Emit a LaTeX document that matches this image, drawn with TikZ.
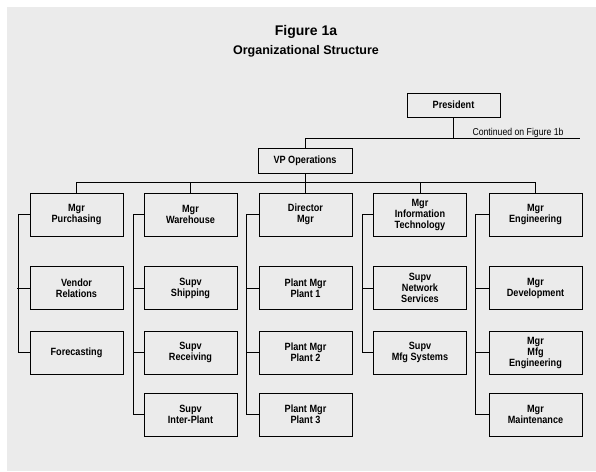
\documentclass[tikz,border=0pt]{standalone}
\usepackage{fontspec}
\setmainfont{Liberation Sans}
\newfontfamily\narrowfont{Liberation Sans}[FakeStretch=0.87]
\usetikzlibrary{calc}
\definecolor{bggray}{HTML}{EBEBEB}

\begin{document}
\begin{tikzpicture}[x=1pt,y=-1pt,
        box/.style={rectangle,draw,line width=1pt,minimum width=93pt,minimum height=43pt,inner sep=1pt,align=center,font=\narrowfont\fontsize{10.5}{11}\selectfont\bfseries},
        link/.style={line width=0.9pt}]
                \fill[white] (0,0) rectangle (596,471);
                \fill[bggray] (7,7) rectangle (596,471);
                \useasboundingbox (0,0) rectangle (596,471);

                \node (title) at (306,32) {\fontsize{14}{16}\selectfont\bfseries Figure 1a};
                \node (subtitle) at (306,51) {\fontsize{12.5}{14}\selectfont\bfseries Organizational Structure};

                \node[box,minimum height=24pt] (pres) at (453.5,105) {President};
                \node[box,minimum width=94pt,minimum height=25pt] (vpops) at (305,160.5) {VP Operations};
                \node[anchor=base west,font=\narrowfont\fontsize{10}{11}\selectfont] (cont) at (469,135.5) {Continued on Figure 1b};

                \node[box] (pur) at (76.5,214.5) {Mgr\\Purchasing};
                \node[box] (vend) at (76.5,288) {Vendor\\Relations};
                \node[box] (fore) at (76.5,352.5) {Forecasting};

                \node[box] (ware) at (190.5,214.5) {Mgr\\Warehouse};
                \node[box] (ship) at (190.5,288) {Supv\\Shipping};
                \node[box] (recv) at (190.5,352.5) {Supv\\Receiving};
                \node[box] (inter) at (190.5,414.5) {Supv\\Inter-Plant};

                \node[box] (dir) at (305.5,214.5) {Director\\Mgr};
                \node[box] (plantA) at (305.5,288) {Plant Mgr\\Plant 1};
                \node[box] (plantB) at (305.5,352.5) {Plant Mgr\\Plant 2};
                \node[box] (plantC) at (305.5,414.5) {Plant Mgr\\Plant 3};

                \node[box] (itmgr) at (420,214.5) {Mgr\\Information\\Technology};
                \node[box] (net) at (420,288) {Supv\\Network\\Services};
                \node[box] (mfgsys) at (420,352.5) {Supv\\Mfg Systems};

                \node[box] (eng) at (535.5,214.5) {Mgr\\Engineering};
                \node[box] (dev) at (535.5,288) {Mgr\\Development};
                \node[box] (mfgeng) at (535.5,352.5) {Mgr\\Mfg\\Engineering};
                \node[box] (maint) at (535.5,414.5) {Mgr\\Maintenance};

                % top of the chart
                \coordinate (contend) at (580,138);
                \coordinate (bus) at (0,182);
                \draw[link] (pres.south) -- (pres.south |- contend);
                \draw[link] (vpops.north) |- (contend);
                \draw[link] (vpops.south) -- (vpops.south |- bus);
                \draw[link] (pur.north) |- (eng.north |- bus) -- (eng.north);
                \draw[link] (ware.north) -- (ware.north |- bus);
                \draw[link] (dir.north) -- (dir.north |- bus);
                \draw[link] (itmgr.north) -- (itmgr.north |- bus);

                % columns
                \draw[link] (pur.west) -- ++(-11.5,0) |- (fore.west);
                \draw[link] (vend.west) -- ++(-13,0);

                \draw[link] (ware.west) -- ++(-10,0) |- (inter.west);
                \draw[link] (ship.west) -- ++(-10,0);
                \draw[link] (recv.west) -- ++(-10,0);

                \draw[link] (dir.west) -- ++(-12,0) |- (plantC.west);
                \draw[link] (plantA.west) -- ++(-12,0);
                \draw[link] (plantB.west) -- ++(-12,0);

                \draw[link] (itmgr.west) -- ++(-11,0) |- (mfgsys.west);
                \draw[link] (net.west) -- ++(-11,0);

                \draw[link] (eng.west) -- ++(-13,0) |- (maint.west);
                \draw[link] (dev.west) -- ++(-13,0);
                \draw[link] (mfgeng.west) -- ++(-13,0);
            \end{tikzpicture}
\end{document}
